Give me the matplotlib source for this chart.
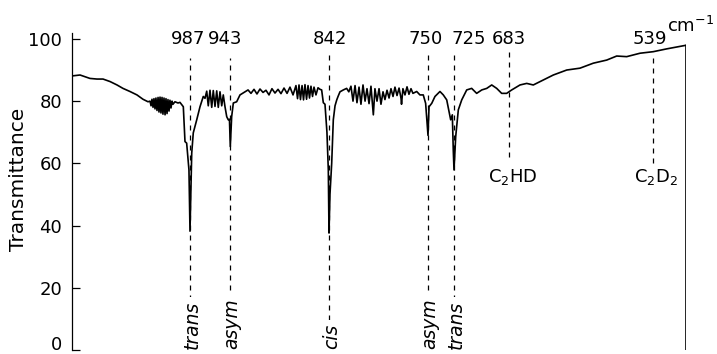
import numpy as np
import matplotlib
matplotlib.use("Agg")
import matplotlib.pyplot as plt
from matplotlib.transforms import ScaledTranslation

plt.rcParams['font.family'] = ['DejaVu Sans']
plt.rcParams['mathtext.default'] = 'regular'

# spectrum trace: wavenumber (cm-1) and transmittance (%)
wavenumber = [
    1100, 1092.3, 1082.8, 1076.1, 1070.3, 1063.6, 1056.9, 1051.2, 1044.5, 1037.8,
    1032.0, 1027.2,
    1025.3, 1024.3, 1023.4, 1022.4, 1021.5, 1020.5, 1019.6, 1018.6, 1017.6, 1016.7,
    1015.7, 1014.8, 1013.8, 1012.9, 1011.9, 1010.9, 1010.0, 1009.0, 1008.1, 1007.1,
    1006.2, 1005.2, 1004.2, 1003.3,
    1001.4, 998.5, 996.6, 993.4, 991.8, 990.2, 988.0, 987.0,
    985.1, 983.4, 979.6, 976.0, 972.4, 970.5,
    968.6, 966.9, 965.0, 963.1, 961.4, 959.5, 957.6, 955.9, 954.0, 952.1, 950.4,
    948.5, 946.6, 944.9, 943.6, 942.7,
    941.3, 939.6, 936.2, 932.8, 929.7, 924.6,
    921.6, 918.5, 915.5, 912.4, 909.3, 906.3, 903.2, 900.2, 897.1, 894.0, 891.0,
    887.9, 884.8, 881.8, 878.7,
    875.7, 874.1, 872.6, 871.1, 869.5, 868.0, 866.5, 864.9, 863.4, 861.9, 860.4,
    858.8, 857.3, 855.3, 853.2, 851.2, 849.5, 847.8, 846.1, 844.1, 842.7, 842.0,
    841.1, 839.5, 838.0, 836.4, 834.8, 833.6, 831.8, 828.7, 825.6,
    823.6, 821.6, 819.7, 817.8, 816.0, 814.1, 812.3, 810.4, 808.5, 806.7, 804.8,
    803.0, 800.8, 799.3, 797.4, 795.5, 793.7, 791.8, 790.0, 788.1, 786.2, 784.4,
    782.5, 780.7, 778.8, 776.9, 775.1, 774.6, 773.3, 771.4, 769.5, 767.7, 765.8,
    764.0, 760.5, 757.5, 754.4, 752.2, 750.0,
    749.0, 746.4, 743.3, 738.5, 735.3, 732.0, 729.5, 728.2, 726.6, 725.7, 725.0,
    723.7, 721.7, 719.1, 715.3, 711.5, 707.7, 703.8, 700.0, 696.2, 692.4, 688.6,
    684.8, 680.3, 673.7, 672.0, 665.3, 658.7, 648.7, 638.7, 625.3, 612.0, 598.7,
    585.3, 575.3, 565.3, 552.0, 538.7, 524.9, 506.0, 505.0,
]
transmittance = [
    88.1, 88.4, 87.3, 87.1, 87.1, 86.3, 85.2, 84.1, 83.1, 82.0,
    80.6, 79.8,
    80.0, 78.5, 80.6, 78.0, 80.8, 77.5, 81.0, 77.0, 81.2, 76.5,
    81.3, 76.2, 81.2, 75.8, 81.0, 75.6, 80.8, 76.0, 80.5, 76.8,
    80.3, 77.8, 80.0, 79.0,
    79.8, 79.4, 79.6, 78.2, 67.0, 66.5, 57.9, 38.2,
    63.3, 69.8, 74.0, 78.2, 81.5, 80.9,
    83.2, 78.5, 83.5, 78.0, 83.4, 78.3, 83.3, 78.0, 83.0, 78.5, 82.0,
    78.2, 75.0, 74.0, 74.2, 65.4,
    75.0, 79.4, 79.8, 82.0, 82.6, 83.6,
    82.5, 83.8, 82.3, 83.9, 82.8, 83.5, 82.0, 84.0, 82.6, 83.8, 82.4,
    84.2, 82.5, 84.5, 82.0,
    85.0, 80.8, 85.2, 80.5, 85.0, 80.4, 85.3, 80.6, 85.0, 81.0, 84.8,
    81.5, 84.5, 82.0, 84.3, 83.8, 83.6, 79.5, 79.0, 70.0, 57.9, 37.6,
    50.0, 60.0, 74.0, 78.5, 80.4, 81.5, 83.0, 83.6, 84.1,
    83.0, 84.8, 80.0, 85.0, 79.5, 84.5, 79.0, 85.2, 80.0, 84.0, 79.2,
    84.8, 75.6, 84.0, 80.0, 84.0, 79.0, 83.0, 80.5, 83.5, 81.0, 84.0,
    81.5, 84.5, 81.8, 84.2, 81.0, 79.0, 84.0, 82.0, 84.6, 82.2, 84.0,
    82.5, 83.1, 82.0, 82.0, 79.3, 69.0,
    78.2, 79.3, 81.5, 83.1, 82.0, 80.4, 76.1, 74.0, 75.6, 64.3, 57.9,
    68.6, 77.2, 80.4, 83.6, 84.1, 82.5, 83.6, 84.1, 85.2, 84.1, 82.5,
    82.5, 83.6, 84.9, 85.2, 85.7, 85.2, 86.8, 88.4, 90.0, 90.6, 92.2,
    93.2, 94.5, 94.3, 95.4, 95.9, 96.8, 97.9, 98.0,
]

# marked bands
bands = [987, 943, 842, 750, 725, 683, 539]
band_names = ['987', '943', '842', '750', '725', '683', '539']
band_label_x = [989, 948, 841, 752, 714, 683, 542]
line_top = [94, 94, 96.5, 96.5, 95, 96.5, 95]
line_bottom = [0, 0, 0, 0, 0, 62, 60]
modes = ['trans', 'asym', 'cis', 'asym', 'trans']
species = ['C$_2$HD', 'C$_2$D$_2$']
species_x = [679, 536]

# recorder chart is not linear in wavenumber: chart position of each mark
cal_wn = np.array([1200, 1100, 987, 943, 842, 750, 725, 683, 539, 505, 400])
cal_pos = np.array([-24, 72, 190, 230, 329, 428, 454, 509, 653, 686, 788])
wn_asc = cal_wn[::-1]
pos_asc = -cal_pos[::-1]


def forward(x):
    return np.interp(x, wn_asc, pos_asc)


def inverse(p):
    return np.interp(p, pos_asc, wn_asc)


fig = plt.figure(figsize=(7.17, 3.54), dpi=100)
ax = fig.add_axes([72 / 717, 4 / 354, 614 / 717, 317.3 / 354])
ax.set_xscale('function', functions=(forward, inverse))

ax.plot(wavenumber, transmittance, color='black', lw=1.2, solid_joinstyle='round')
ax.vlines(wavenumber[-1], 0, transmittance[-1], color='black', lw=1.2)

for i, b in enumerate(bands):
    ax.vlines(b, line_bottom[i], line_top[i], color='black', lw=0.9,
              linestyles=(0, (4, 4)))
    ax.text(band_label_x[i], 98.4, band_names[i], ha='center', va='baseline',
            fontsize=13)

for i, m in enumerate(modes):
    ax.text(bands[i] - 2, 0.3, m, rotation=90, ha='center', va='bottom',
            fontsize=13.5, style='italic', clip_on=False,
            bbox=dict(fc='white', ec='none', pad=2.5))

for i, s in enumerate(species):
    ax.text(species_x[i], 55.6, s, ha='center', va='center', fontsize=13)

ax.text(524.6, 102.3, 'cm$^{-1}$', ha='left', va='baseline', fontsize=13)

ax.set_xlim(1100, 505)
ax.set_ylim(0, 102)
ax.set_yticks([0, 20, 40, 60, 80, 100])
ax.tick_params(axis='y', direction='in', length=6, width=0.9, labelsize=13, pad=7)
ax.xaxis.set_visible(False)
for side in ['top', 'right', 'bottom']:
    ax.spines[side].set_visible(False)
ax.spines['left'].set_linewidth(0.9)

# lift the "0" label so it stays inside the figure
zero = ax.yaxis.get_major_ticks()[0].label1
zero.set_transform(zero.get_transform() + ScaledTranslation(0, 7 / 100, fig.dpi_scale_trans))

fig.text(18.5 / 717, 1 - 179 / 354, 'Transmittance', rotation=90,
         ha='center', va='center', fontsize=14.5)

fig.savefig('out.png', dpi=100)
